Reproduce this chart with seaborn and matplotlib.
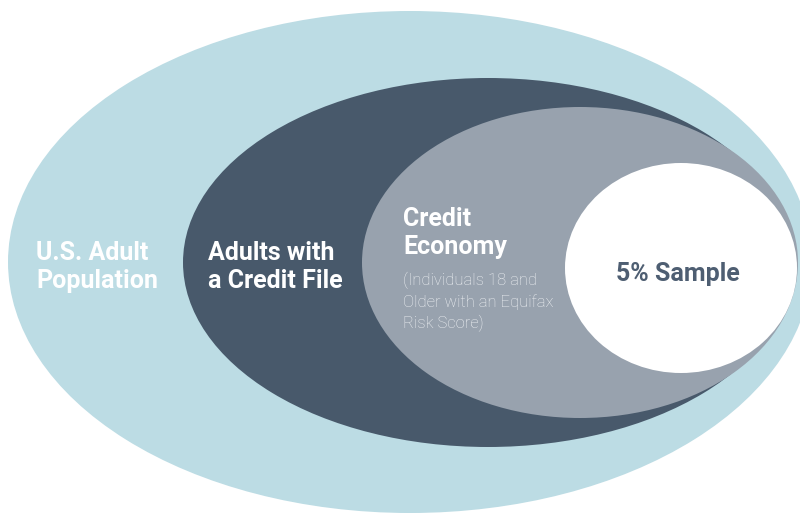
import matplotlib
matplotlib.use('Agg')
import matplotlib.pyplot as plt
import seaborn as sns
from matplotlib.patches import Ellipse

sns.set_theme(style='white')
plt.rcParams['font.family'] = ['Roboto', 'DejaVu Sans']

# nested groups, outermost first
groups = ['U.S. Adult\nPopulation', 'Adults with\na Credit File', 'Credit\nEconomy', '5% Sample']
colors = ['#bcdce4', '#48596b', '#98a2ae', '#ffffff']

# ellipse geometry in pixel space (center x, center y, width, height)
centers_x = [410, 488, 580, 681]
centers_y = [262, 262.5, 262.5, 268]
widths = [804, 610, 436, 232]
heights = [502, 369, 311, 210]

note = '(Individuals 18 and\nOlder with an Equifax\nRisk Score)'

fig = plt.figure(figsize=(8.0, 5.13), dpi=100)
ax = fig.add_axes([0, 0, 1, 1])
ax.set_xlim(0, 800)
ax.set_ylim(513, 0)
ax.axis('off')

for cx, cy, w, h, c in zip(centers_x, centers_y, widths, heights, colors):
    ax.add_patch(Ellipse((cx, cy), w, h, facecolor=c, edgecolor='none'))

# labels
ax.text(36, 267, groups[0], color='white', fontsize=18, fontweight='bold',
        ha='left', va='center', linespacing=1.25)
ax.text(208, 267, groups[1], color='white', fontsize=18, fontweight='bold',
        ha='left', va='center', linespacing=1.25)
ax.text(403, 233, groups[2], color='white', fontsize=18, fontweight='bold',
        ha='left', va='center', linespacing=1.25)
ax.text(403, 302, note, color='#eef1f4', fontsize=12, fontweight='light',
        ha='left', va='center', linespacing=1.4)
ax.text(678, 274, groups[3], color='#4e5e72', fontsize=18, fontweight='bold',
        ha='center', va='center')

fig.savefig('out.png', dpi=100)
